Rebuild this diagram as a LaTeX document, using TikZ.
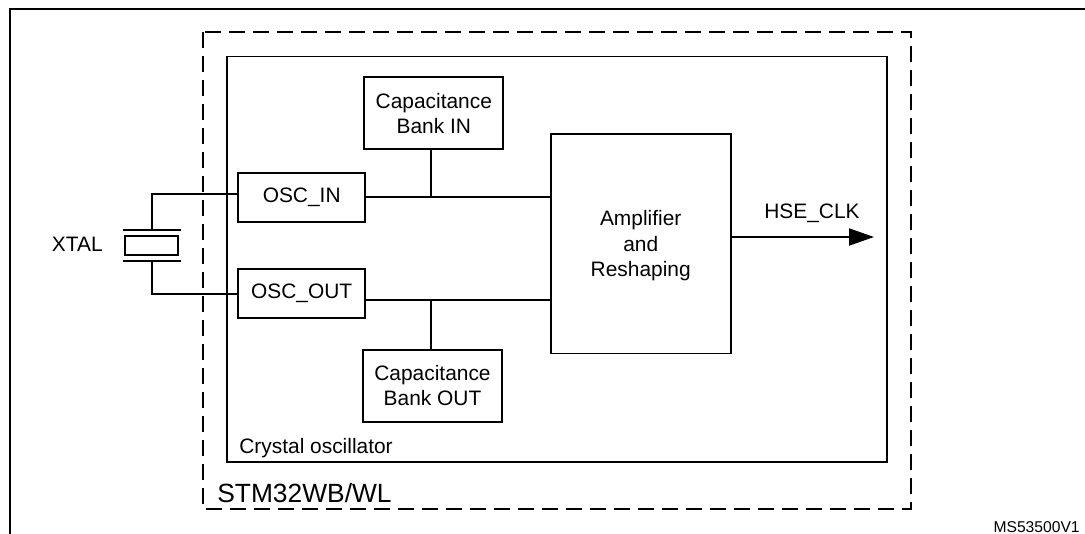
\documentclass[tikz,border=0pt]{standalone}
\usepackage{fontspec}
\setmainfont{Liberation Sans}
\usetikzlibrary{arrows.meta}

\tikzset{
    wire/.style={line width=1.1pt},
    block/.style={draw, line width=1.1pt, align=center, inner sep=0pt, font=\fontsize{11.9}{14.5}\selectfont},
    oscbox/.style={block, minimum width=2.53cm, minimum height=0.97cm},
    bankbox/.style={block, minimum width=2.78cm, minimum height=1.44cm},
    plainlabel/.style={inner sep=0pt, align=center, font=\fontsize{11.9}{14.5}\selectfont}
}

\begin{document}
\begin{tikzpicture}[x=0.02cm, y=-0.02cm]
    \useasboundingbox (0,0) rectangle (1085,534);

    % frames
    \draw[line width=1.3pt] (1085,9) -- (10,9) -- (10,534);
    \draw[line width=1.1pt, dash pattern=on 0.32cm off 0.16cm] (203,32) rectangle (911,509);
    \draw[line width=1.1pt] (227,56.5) rectangle (887,461.7);

    % blocks
    \node[oscbox] (oscin) at (301.7,197.5) {OSC\_IN};
    \node[oscbox] (oscout) at (301.7,293.5) {OSC\_OUT};
    \node[bankbox] (bankin) at (433.8,113.3) {Capacitance\\Bank IN};
    \node[bankbox] (bankout) at (432.5,385.7) {Capacitance\\Bank OUT};
    \node[block, minimum width=3.6cm, minimum height=4.39cm] (amp) at (640.7,243.8) {\rule{0pt}{11.2pt}Amplifier\\and\\Reshaping};
    \node[block, minimum width=1.06cm, minimum height=0.39cm] (xtal) at (151.8,245.7) {};

    % labels
    \node[plainlabel] (xtallabel) at (77.3,244) {XTAL};
    \node[plainlabel] (clklabel) at (812,213.5) {HSE\_CLK};
    \node[plainlabel, anchor=west] (osclabel) at (239,448) {Crystal oscillator};
    \node[plainlabel, anchor=west, font=\fontsize{15}{18}\selectfont] (chiplabel) at (217,492.7) {STM32WB/WL};
    \node[plainlabel, anchor=east, font=\fontsize{8.9}{11}\selectfont] (reflabel) at (1080,527) {MS53500V1};

    % crystal
    \coordinate (platetop) at (151.8,230);
    \coordinate (platebot) at (151.8,261);
    \coordinate (xin) at (151.8,194.3);
    \coordinate (xout) at (151.8,293.7);
    \coordinate (jin) at (430.7,197.1);
    \coordinate (jout) at (430.7,299.9);
    \coordinate (clkend) at (874,237);
    \draw[wire] ([xshift=-0.58cm]platetop) -- ([xshift=0.58cm]platetop);
    \draw[wire] ([xshift=-0.58cm]platebot) -- ([xshift=0.58cm]platebot);
    \draw[wire] (platetop) -- (xin) -- (oscin.west |- xin);
    \draw[wire] (platebot) -- (xout) -- (oscout.west |- xout);

    % connections
    \draw[wire] (oscin.east |- jin) -- (amp.west |- jin);
    \draw[wire] (oscout.east |- jout) -- (amp.west |- jout);
    \draw[wire] (bankin.south -| jin) -- (jin);
    \draw[wire] (bankout.north -| jout) -- (jout);
    \draw[wire, -{Triangle[length=0.5cm, width=0.34cm]}] (amp.east |- clkend) -- (clkend);
\end{tikzpicture}
\end{document}
